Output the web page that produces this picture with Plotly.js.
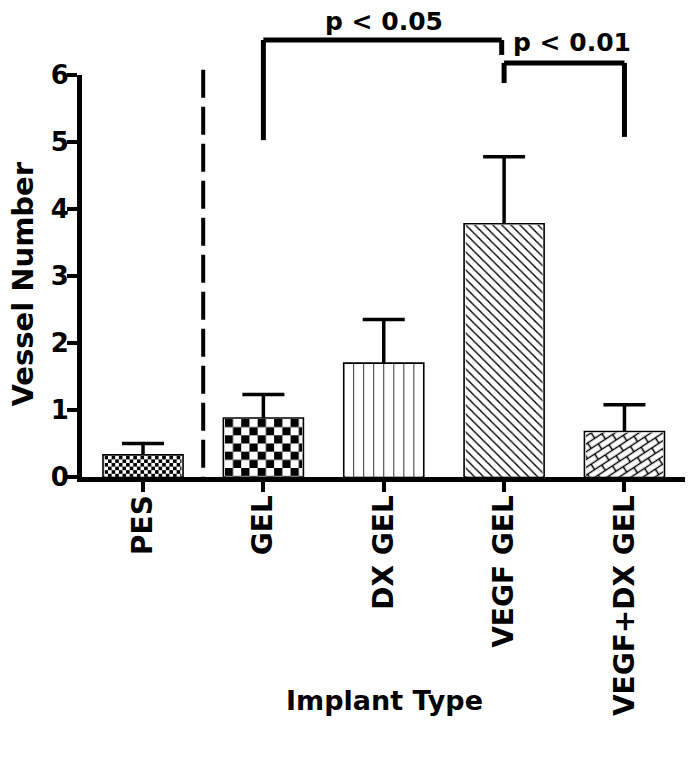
<!DOCTYPE html>
<html>
<head>
<meta charset="utf-8">
<script src="https://cdn.plot.ly/plotly-3.0.1.min.js"></script>
<style>
  html, body { margin: 0; padding: 0; background: #ffffff; }
  #chart { width: 695px; height: 760px; }
</style>
</head>
<body>
<div id="chart"></div>
<script>
// ---------------- data ----------------
const categories = ['PES', 'GEL', 'DX GEL', 'VEGF GEL', 'VEGF+DX GEL'];
const vesselMean = [0.33, 0.88, 1.70, 3.78, 0.68];
const vesselSEM = [0.17, 0.35, 0.65, 1.00, 0.40];
const yTickValues = [0, 1, 2, 3, 4, 5, 6];
const yTickLabels = ['0', '1', '2', '3', '4', '5', '6'];
const xAxisTitle = 'Implant Type';
const yAxisTitle = 'Vessel Number';
const sigLabels = ['p < 0.05', 'p < 0.01'];

// ---------------- styles ----------------
const FONT = 'DejaVu Sans';
const W = 695, H = 760;
const M = { l: 82, r: 10, t: 75, b: 283 };
const xRange = [-0.507, 4.503];
const yRange = [0, 6];
const BARGAP = 0.335;
const barW = 1 - BARGAP;
const plotW = W - M.l - M.r, plotH = H - M.t - M.b;
const pxPerX = plotW / (xRange[1] - xRange[0]);
const pxPerY = plotH / (yRange[1] - yRange[0]);
const OUTLINE = 1.6;

// texture per bar
const fillTexture = ['fineChecker', 'checker', 'vlines', 'diag', 'brick'];

function textureSVG(kind, w, h) {
  let defs;
  if (kind === 'checker' || kind === 'fineChecker') {
    const s = kind === 'checker' ? 8.2 : 3.6;
    defs = `<pattern id="p" width="${2*s}" height="${2*s}" patternUnits="userSpaceOnUse">` +
           `<rect width="${2*s}" height="${2*s}" fill="#fff"/>` +
           `<rect width="${s}" height="${s}" fill="#000"/>` +
           `<rect x="${s}" y="${s}" width="${s}" height="${s}" fill="#000"/></pattern>`;
  } else if (kind === 'vlines') {
    const s = 10;
    defs = `<pattern id="p" width="${s}" height="${s}" patternUnits="userSpaceOnUse" x="-1">` +
           `<rect width="${s}" height="${s}" fill="#fff"/>` +
           `<path d="M${s},0V${s}" stroke="#000" stroke-width="1.6" fill="none"/></pattern>`;
  } else if (kind === 'diag') {
    const s = 9;
    defs = `<pattern id="p" width="${s}" height="${s}" patternUnits="userSpaceOnUse">` +
           `<rect width="${s}" height="${s}" fill="#fff"/>` +
           `<path d="M-2,${s-2}L2,${s+2}M0,0L${s},${s}M${s-2},-2L${s+2},2" stroke="#000" stroke-width="1.4" fill="none"/></pattern>`;
  } else {
    const L = 17, hh = 6.5;
    defs = `<pattern id="p" width="${L}" height="${2*hh}" patternUnits="userSpaceOnUse" patternTransform="rotate(-33)">` +
           `<rect width="${L}" height="${2*hh}" fill="#fff"/>` +
           `<path d="M0,${hh/2}H${L}M0,${1.5*hh}H${L}M${L/4},${hh/2}V${1.5*hh}M${0.75*L},${1.5*hh}V${2*hh}M${0.75*L},0V${hh/2}" stroke="#000" stroke-width="1.5" fill="none"/></pattern>`;
  }
  const svg = `<svg xmlns="http://www.w3.org/2000/svg" width="${w}" height="${h}" viewBox="0 0 ${w} ${h}"><defs>${defs}</defs><rect width="${w}" height="${h}" fill="url(#p)"/></svg>`;
  return 'data:image/svg+xml;charset=utf-8,' + encodeURIComponent(svg);
}

// textures sit inside each bar's outline
const images = categories.map((c, i) => {
  const wpx = barW * pxPerX - 2 * OUTLINE + 0.4;
  const hpx = Math.max(1, vesselMean[i] * pxPerY - OUTLINE + 0.4);
  return {
    source: textureSVG(fillTexture[i], Math.round(wpx), Math.round(hpx)),
    xref: 'x', yref: 'y',
    x: i, y: vesselMean[i] - (OUTLINE * 0.6) / pxPerY,
    sizex: wpx / pxPerX, sizey: hpx / pxPerY,
    xanchor: 'center', yanchor: 'top',
    sizing: 'stretch', layer: 'above'
  };
});

// error bars (drawn first, so bars cover their lower half)
const errTrace = {
  type: 'bar',
  x: categories,
  y: vesselMean,
  marker: { color: 'rgba(0,0,0,0)', line: { width: 0 } },
  error_y: { type: 'data', symmetric: true, array: vesselSEM, color: '#000000', thickness: 3.5, width: 21 },
  hoverinfo: 'skip', showlegend: false
};
const barTrace = {
  type: 'bar',
  x: categories,
  y: vesselMean,
  marker: { color: '#ffffff', line: { color: '#000000', width: OUTLINE } },
  hoverinfo: 'skip', showlegend: false
};

// significance bracket geometry (paper y, category x)
const bracketTop1 = 1.087, bracketTop2 = 1.030;
const shapes = [
  { type: 'line', xref: 'x', yref: 'paper', x0: 0.5, x1: 0.5, y0: 1.013, y1: 0,
    line: { color: '#000', width: 4, dash: '28px,9px' } },
  { type: 'line', xref: 'x', yref: 'paper', x0: 1, x1: 1, y0: 0.838, y1: bracketTop1, line: { color: '#000', width: 5 } },
  { type: 'line', xref: 'x', yref: 'paper', x0: 1, x1: 2.98, y0: bracketTop1, y1: bracketTop1, line: { color: '#000', width: 5 } },
  { type: 'line', xref: 'x', yref: 'paper', x0: 2.98, x1: 2.98, y0: bracketTop1, y1: 1.050, line: { color: '#000', width: 5 } },
  { type: 'line', xref: 'x', yref: 'paper', x0: 3.0, x1: 3.0, y0: 0.980, y1: bracketTop2, line: { color: '#000', width: 5 } },
  { type: 'line', xref: 'x', yref: 'paper', x0: 3.0, x1: 4, y0: bracketTop2, y1: bracketTop2, line: { color: '#000', width: 5 } },
  { type: 'line', xref: 'x', yref: 'paper', x0: 4, x1: 4, y0: bracketTop2, y1: 0.846, line: { color: '#000', width: 5 } }
];

const annotations = [
  { text: sigLabels[0], xref: 'x', yref: 'paper', x: 2, y: 1.132, xanchor: 'center', yanchor: 'middle',
    showarrow: false, font: { family: FONT, size: 25, color: '#000', weight: 'bold' } },
  { text: sigLabels[1], xref: 'x', yref: 'paper', x: 3.56, y: 1.082, xanchor: 'center', yanchor: 'middle',
    showarrow: false, font: { family: FONT, size: 25, color: '#000', weight: 'bold' } },
  { text: xAxisTitle, xref: 'paper', yref: 'paper', x: 0.501, y: -0.555, xanchor: 'center', yanchor: 'middle',
    showarrow: false, font: { family: FONT, size: 27, color: '#000', weight: 'bold' } },
  { text: yAxisTitle, xref: 'paper', yref: 'paper', x: -0.098, y: 0.481, xanchor: 'center', yanchor: 'middle',
    textangle: -90, showarrow: false, font: { family: FONT, size: 29, color: '#000', weight: 'bold' } }
];

const layout = {
  width: W, height: H,
  margin: M,
  paper_bgcolor: '#ffffff', plot_bgcolor: '#ffffff',
  font: { family: FONT, color: '#000000' },
  bargap: BARGAP,
  barmode: 'overlay',
  showlegend: false,
  xaxis: {
    type: 'category', categoryorder: 'array', categoryarray: categories,
    range: xRange, fixedrange: true,
    showline: true, linecolor: '#000', linewidth: 5,
    ticks: 'outside', ticklen: 10, tickwidth: 4, tickcolor: '#000',
    tickangle: -90, ticklabelstandoff: -8,
    tickfont: { family: FONT, size: 28, color: '#000', weight: 'bold' },
    showgrid: false, zeroline: false
  },
  yaxis: {
    range: yRange, fixedrange: true,
    tickmode: 'array', tickvals: yTickValues, ticktext: yTickLabels,
    showline: true, linecolor: '#000', linewidth: 5,
    ticks: 'outside', ticklen: 10, tickwidth: 4, tickcolor: '#000',
    ticklabelstandoff: -7,
    tickfont: { family: FONT, size: 26, color: '#000', weight: 'bold' },
    showgrid: false, zeroline: false
  },
  shapes: shapes,
  annotations: annotations,
  images: images
};

Plotly.newPlot('chart', [errTrace, barTrace], layout, { staticPlot: true, displayModeBar: false });
</script>
</body>
</html>
